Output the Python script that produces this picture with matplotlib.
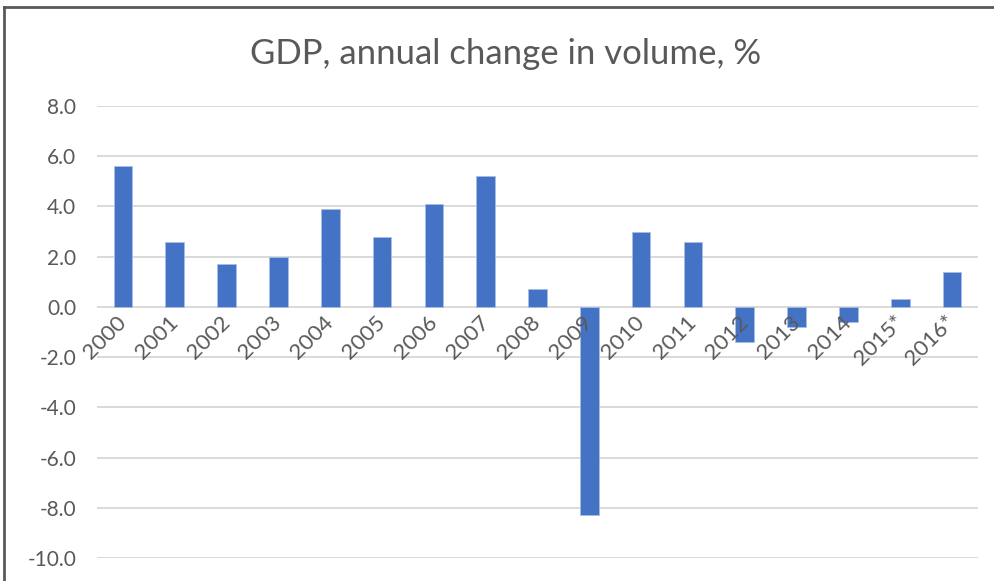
import matplotlib
matplotlib.use("Agg")
import matplotlib.pyplot as plt
from matplotlib.lines import Line2D

years = ["2000", "2001", "2002", "2003", "2004", "2005", "2006", "2007", "2008",
         "2009", "2010", "2011", "2012", "2013", "2014", "2015*", "2016*"]
gdp_change = [5.6, 2.6, 1.7, 2.0, 3.9, 2.8, 4.1, 5.2, 0.7,
              -8.3, 3.0, 2.6, -1.4, -0.8, -0.6, 0.3, 1.4]
y_ticks = [8, 6, 4, 2, 0, -2, -4, -6, -8, -10]

plt.rcParams["font.family"] = ["Lato", "DejaVu Sans"]

fig = plt.figure(figsize=(9.95, 5.81), dpi=100)
ax = fig.add_axes([0.0975, 0.0396, 0.8854, 0.778])

# light grid, drawn under the bars
for v in y_ticks:
    ax.axhline(v, color="#D9D9D9", linewidth=1.4, zorder=0)

x = list(range(len(years)))
ax.bar(x, gdp_change, width=0.36, color="#4472C4", edgecolor="#A8BDE6",
       linewidth=0.6, zorder=2)

ax.set_xlim(-0.5, len(years) - 0.5)
ax.set_ylim(-10, 8)
ax.set_yticks(y_ticks)
ax.set_yticklabels([f"{v:.1f}" for v in y_ticks], color="#595959", fontsize=15)
ax.tick_params(axis="y", length=0, pad=15)
ax.set_xticks([])
for s in ax.spines.values():
    s.set_visible(False)

# category labels sit just under the zero line, slanted
for i, lab in enumerate(years):
    ax.text(i + 0.14, -0.2, lab, rotation=45, ha="right", va="top",
            fontsize=16, color="#595959", zorder=3)

fig.text(0.508, 0.907, "GDP, annual change in volume, %", ha="center",
         va="center", fontsize=25, color="#595959")

# chart area frame
fig.add_artist(Line2D([0.0045, 0.0045], [0, 0.988], color="#595959", linewidth=2))
fig.add_artist(Line2D([0.0045, 1], [0.988, 0.988], color="#595959", linewidth=2))

fig.savefig("out.png", dpi=100)
